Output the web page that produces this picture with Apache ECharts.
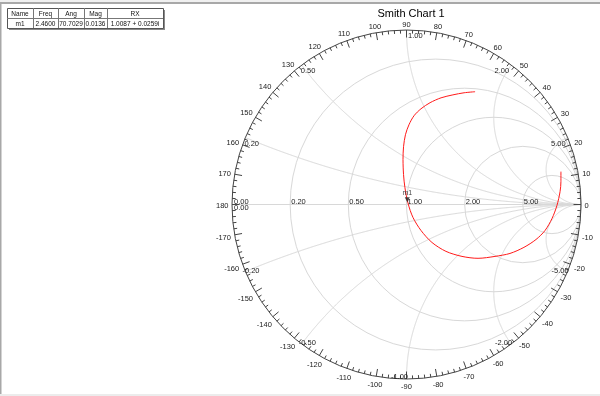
<!DOCTYPE html>
<html><head><meta charset="utf-8">
<script src="https://cdn.jsdelivr.net/npm/echarts@6.0.0/dist/echarts.min.js"></script>
<style>html,body{margin:0;padding:0;background:#fff}#c{width:600px;height:396px}</style>
</head><body><div id="c"></div><script>
// ---- data ----
const chartTitle = 'Smith Chart 1';
const gammaRe = [0.885, 0.885, 0.880, 0.862, 0.834, 0.794, 0.742, 0.673, 0.593, 0.507, 0.410, 0.318, 0.226, 0.146, 0.083, 0.037, 0.009, -0.009, -0.017, -0.020, -0.017, -0.006, 0.014, 0.043, 0.083, 0.135, 0.198, 0.266, 0.330, 0.393];
const gammaIm = [0.189, 0.132, 0.074, -0.006, -0.080, -0.149, -0.201, -0.246, -0.281, -0.298, -0.309, -0.298, -0.269, -0.218, -0.149, -0.074, 0.006, 0.097, 0.172, 0.258, 0.332, 0.401, 0.458, 0.510, 0.550, 0.585, 0.613, 0.630, 0.642, 0.648];
// marker
const markerNames = ['m1'];
const markerMag = [0.0136];
const markerAngDeg = [70.7029];
// marker table
const tableHeaders = ['Name', 'Freq', 'Ang', 'Mag', 'RX'];
const tableRow = ['m1', '2.4600', '70.7029', '0.0136', '1.0087 + 0.0259i'];
// Smith grid values and labels
const resistanceValues = [0.2, 0.5, 1, 2, 5];
const resistanceLabels = ['0.20', '0.50', '1.00', '2.00', '5.00'];
const reactanceValues = [0.2, 0.5, 1, 2, 5];
const reactanceLabels = ['0.20', '0.50', '1.00', '2.00', '5.00'];
const angleLabels = [0, 10, 20, 30, 40, 50, 60, 70, 80, 90, 100, 110, 120, 130, 140, 150, 160, 170, 180,
  -10, -20, -30, -40, -50, -60, -70, -80, -90, -100, -110, -120, -130, -140, -150, -160, -170];

// ---- chart ----
const FONT = 'Liberation Sans, Arial, sans-serif';
const chart = echarts.init(document.getElementById('c'), null, {renderer: 'canvas'});

function textW(s, fs) {
  let w = 0;
  for (const ch of s) w += (ch === '-' ? 0.333 : ch === '.' ? 0.278 : 0.556) * fs;
  return w;
}

function renderGrid(params, api) {
  const c0 = api.coord([0, 0]);
  const c1 = api.coord([1, 0]);
  const R = c1[0] - c0[0];
  const cx = c0[0], cy = c0[1];
  const kids = [];
  const gs = {stroke: '#d8d8d8', lineWidth: 1, fill: null};
  kids.push({type: 'line', shape: {x1: cx - R, y1: cy, x2: cx + R, y2: cy}, style: gs});
  resistanceValues.forEach(r => {
    const cc = api.coord([r / (r + 1), 0]);
    kids.push({type: 'circle', shape: {cx: cc[0], cy: cc[1], r: R / (r + 1)}, style: gs});
  });
  reactanceValues.forEach(x => {
    [x, -x].forEach(xx => {
      const pts = [];
      for (let i = 0; i < 400; i++) {
        const t = i / 400;
        const r = t / (1 - t);
        const D = (r + 1) * (r + 1) + xx * xx;
        pts.push(api.coord([(r * r + xx * xx - 1) / D, 2 * xx / D]));
      }
      pts.push(api.coord([1, 0]));
      kids.push({type: 'polyline', shape: {points: pts}, style: gs});
    });
  });
  // outer circle
  kids.push({type: 'circle', shape: {cx: cx, cy: cy, r: R}, style: {stroke: '#444', lineWidth: 1, fill: null}});
  // ticks
  for (let d = -180; d < 180; d += 2) {
    const a = d * Math.PI / 180;
    const len = (d % 10 === 0) ? 7.5 : 3.5;
    kids.push({type: 'line', shape: {
      x1: cx + R * Math.cos(a), y1: cy - R * Math.sin(a),
      x2: cx + (R - len) * Math.cos(a), y2: cy - (R - len) * Math.sin(a)},
      style: {stroke: '#444', lineWidth: 1}});
  }
  const fs = 7.5;
  const txt = (s, x, y, align, va) => ({type: 'text', style: {
    text: s, x: x, y: y, fill: '#222', font: fs + 'px ' + FONT, align: align, verticalAlign: va}});
  // angle labels
  angleLabels.forEach(d => {
    const a = d * Math.PI / 180;
    const s = String(d);
    const w = textW(s, fs), h = fs * 0.75;
    const ext = Math.abs(Math.cos(a)) * w / 2 + Math.abs(Math.sin(a)) * h / 2;
    const rr = R + 3.5 + ext;
    kids.push(txt(s, cx + rr * Math.cos(a), cy - rr * Math.sin(a) + 1.2, 'center', 'middle'));
  });
  // resistance labels along real axis
  kids.push(txt('0.00', cx - R + 2, cy + 1, 'left', 'bottom'));
  kids.push(txt('0.00', cx - R + 2, cy - 1, 'left', 'top'));
  resistanceValues.forEach((r, i) => {
    const p = api.coord([(r - 1) / (r + 1), 0]);
    kids.push(txt(resistanceLabels[i], p[0] + 1, p[1] + 1, 'left', 'bottom'));
  });
  // reactance labels at the rim
  reactanceValues.forEach((x, i) => {
    const th = Math.PI - 2 * Math.atan(x);
    const pp = api.coord([Math.cos(th), Math.sin(th)]);
    const pn = api.coord([Math.cos(th), -Math.sin(th)]);
    const lab = reactanceLabels[i];
    if (x < 1) {
      kids.push(txt(lab, pp[0] - 1, pp[1] + 2, 'left', 'top'));
      kids.push(txt('-' + lab, pn[0] - 3, pn[1] - 1, 'left', 'middle'));
    } else if (x === 1) {
      kids.push(txt(lab, pp[0] + 1.5, pp[1] + 1, 'left', 'top'));
      kids.push(txt('-' + lab, pn[0] + 1.5, pn[1] - 2, 'right', 'middle'));
    } else {
      kids.push(txt(lab, pp[0] - 2, pp[1] + 2, 'right', 'top'));
      kids.push(txt('-' + lab, pn[0] + 1, pn[1] - 1, 'right', 'middle'));
    }
  });
  return {type: 'group', children: kids};
}

// marker table graphic
const colX = [7, 33, 58, 84, 107, 163];
const rowY = [8, 18, 28];
const tableEls = [];
tableEls.push({type: 'rect', shape: {x: colX[0] + 2, y: rowY[0] + 2, width: colX[5] - colX[0], height: rowY[2] - rowY[0]}, style: {fill: '#8a8a8a'}});
tableEls.push({type: 'rect', shape: {x: colX[0] + 0.5, y: rowY[0] + 0.5, width: colX[5] - colX[0], height: rowY[2] - rowY[0]}, style: {fill: '#fff', stroke: '#555', lineWidth: 1}});
tableEls.push({type: 'line', shape: {x1: colX[0], y1: rowY[1] + 0.5, x2: colX[5], y2: rowY[1] + 0.5}, style: {stroke: '#777', lineWidth: 1}});
for (let i = 1; i < 5; i++) tableEls.push({type: 'line', shape: {x1: colX[i] + 0.5, y1: rowY[0], x2: colX[i] + 0.5, y2: rowY[2]}, style: {stroke: '#777', lineWidth: 1}});
for (let i = 0; i < 5; i++) {
  const mx = (colX[i] + colX[i + 1]) / 2;
  tableEls.push({type: 'text', style: {text: tableHeaders[i], x: mx, y: (rowY[0] + rowY[1]) / 2 + 1, font: '6.5px ' + FONT, fill: '#111', align: 'center', verticalAlign: 'middle'}});
  tableEls.push({type: 'text', style: {text: tableRow[i], x: mx, y: (rowY[1] + rowY[2]) / 2 + 1, font: '6.5px ' + FONT, fill: '#111', align: 'center', verticalAlign: 'middle'}});
}

const frameEls = [
  {type: 'rect', shape: {x: 0, y: 0, width: 600, height: 2}, style: {fill: '#f0f0f0'}},
  {type: 'rect', shape: {x: 0, y: 2, width: 600, height: 2}, style: {fill: '#a8a8a8'}},
  {type: 'rect', shape: {x: 0, y: 2, width: 1.5, height: 392}, style: {fill: '#a8a8a8'}},
  {type: 'rect', shape: {x: 0, y: 394, width: 600, height: 2}, style: {fill: '#ececec'}}
];

const markerData = markerMag.map((m, i) => {
  const a = markerAngDeg[i] * Math.PI / 180;
  return {value: [m * Math.cos(a), m * Math.sin(a)], name: markerNames[i]};
});

chart.setOption({
  animation: false,
  backgroundColor: '#fff',
  title: {text: chartTitle, left: 406, top: 3, textAlign: 'center',
    textStyle: {fontSize: 11, fontWeight: 'normal', color: '#000', fontFamily: FONT}},
  grid: {left: 214.55, top: 13.05, width: 383.9, height: 383.9},
  xAxis: {type: 'value', min: -1.1, max: 1.1, show: false},
  yAxis: {type: 'value', min: -1.1, max: 1.1, show: false},
  graphic: frameEls.concat(tableEls),
  series: [
    {type: 'custom', data: [[0, 0]], renderItem: renderGrid, silent: true, z: 1, clip: false},
    {type: 'line', data: gammaRe.map((re, i) => [re, gammaIm[i]]), smooth: 0.3, showSymbol: false,
      lineStyle: {color: '#ff1a1a', width: 1}, z: 3, silent: true},
    {type: 'scatter', data: markerData, symbol: 'triangle', symbolRotate: 180, symbolSize: [5, 5],
      symbolOffset: [0, -2.5], itemStyle: {color: '#222'}, z: 4,
      label: {show: true, position: 'top', distance: 1, formatter: '{b}', fontSize: 7, color: '#111', fontFamily: FONT}}
  ]
});
</script></body></html>
